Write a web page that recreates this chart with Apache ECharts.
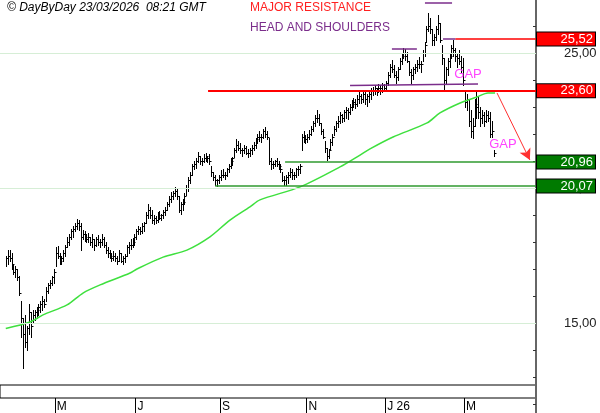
<!DOCTYPE html>
<html>
<head>
<meta charset="utf-8">
<script src="https://cdn.jsdelivr.net/npm/echarts@6/dist/echarts.min.js"></script>
<style>
html, body { margin: 0; padding: 0; background: #fff; }
#chart { width: 600px; height: 413px; }
</style>
</head>
<body>
<div id="chart"></div>
<script>
// daily bars, bar 0 ~ 25/03/2025 ... bar 254 = 23/03/2026
var highs = [
    17.5, 17.7, 17.7, 17.6, 17.2, 17.1, 17.0, 16.75, 15.8, 15.2,
    15.3, 14.9, 15.7, 15.4, 15.5, 15.5, 15.6, 15.7, 15.8, 16.0,
    15.9, 16.35, 16.5, 16.6, 16.75, 17.0, 17.8, 17.85, 17.6, 17.5,
    17.7, 17.9, 18.2, 18.3, 18.5, 18.6, 18.7, 18.85, 18.8, 18.7,
    18.45, 18.4, 18.3, 18.35, 18.2, 18.3, 18.1, 18.2, 18.25, 18.1,
    18.3, 18.2, 18.0, 17.8, 17.7, 17.6, 17.65, 17.6, 17.5, 17.7,
    17.6, 17.5, 17.55, 17.9, 18.0, 18.1, 18.15, 18.3, 18.5, 18.6,
    18.55, 18.7, 18.75, 19.1, 19.4, 19.3, 19.2, 19.0, 18.95, 19.1,
    19.15, 19.05, 19.2, 19.3, 19.5, 19.7, 19.85, 19.9, 20.05, 20.0,
    19.7, 19.5, 19.6, 19.8, 20.1, 20.4, 20.6, 20.9, 21.0, 21.1,
    21.35, 21.2, 21.1, 21.25, 21.3, 21.2, 21.25, 20.8, 20.6, 20.5,
    20.35, 20.5, 20.65, 20.7, 20.6, 20.75, 20.9, 21.1, 21.15, 21.5,
    21.8, 21.75, 21.65, 21.5, 21.6, 21.55, 21.45, 21.5, 21.6, 21.7,
    21.85, 22.0, 22.1, 22.0, 22.2, 22.25, 22.1, 21.85, 21.1, 21.0,
    21.05, 21.1, 21.0, 20.9, 20.6, 20.45, 20.5, 20.6, 20.75, 20.7,
    20.6, 20.75, 20.8, 20.9, 22.0, 22.1, 21.95, 22.0, 22.15, 22.3,
    22.5, 22.7, 22.9, 22.75, 22.4, 22.2, 21.75, 21.5, 21.45, 21.8,
    22.0, 22.3, 22.5, 22.65, 22.8, 22.75, 22.9, 23.0, 22.95, 23.1,
    23.25, 23.35, 23.3, 23.45, 23.55, 23.5, 23.6, 23.55, 23.5, 23.6,
    23.7, 23.75, 23.8, 23.7, 23.85, 23.8, 23.9, 23.85, 23.95, 24.3,
    24.6, 24.75, 24.55, 24.35, 24.5, 24.8, 25.0, 25.2, 25.15, 25.05,
    24.7, 24.4, 24.5, 24.6, 24.75, 24.85, 24.7, 25.1, 25.4, 26.0,
    26.48, 26.3, 25.9, 25.7, 26.0, 26.4, 26.1, 25.3, 24.8, 24.5,
    24.8, 25.0, 25.3, 25.5, 25.2, 24.95, 25.1, 24.9, 24.8, 23.6,
    23.5, 23.3, 22.9, 22.6, 23.3, 23.55, 23.4, 23.0, 22.9, 22.8,
    22.9, 22.85, 22.8, 22.5, 21.4
];
var lows = [
    17.1, 17.2, 17.3, 17.0, 16.8, 16.7, 16.6, 16.05, 14.5, 13.35,
    14.1, 14.0, 14.6, 14.5, 15.0, 15.1, 15.2, 15.3, 15.4, 15.5,
    15.6, 15.8, 16.1, 16.3, 16.4, 16.5, 17.1, 17.4, 17.2, 17.2,
    17.3, 17.5, 17.8, 17.9, 18.1, 18.2, 18.4, 18.5, 18.45, 17.7,
    18.1, 18.05, 18.0, 18.0, 17.9, 17.8, 17.7, 17.85, 17.9, 17.8,
    17.9, 17.8, 17.6, 17.45, 17.4, 17.3, 17.35, 17.3, 17.2, 17.3,
    17.25, 17.2, 17.25, 17.5, 17.6, 17.75, 17.8, 17.9, 18.1, 18.3,
    18.3, 18.35, 18.4, 18.7, 18.9, 18.9, 18.7, 18.65, 18.7, 18.75,
    18.85, 18.8, 18.9, 19.0, 19.2, 19.35, 19.5, 19.6, 19.7, 19.6,
    19.1, 19.05, 19.2, 19.4, 19.75, 19.9, 20.2, 20.5, 20.7, 20.75,
    20.95, 20.9, 20.85, 20.95, 21.0, 20.95, 20.9, 20.45, 20.3, 20.1,
    20.07, 20.2, 20.3, 20.4, 20.35, 20.45, 20.6, 20.75, 20.85, 21.15,
    21.35, 21.4, 21.3, 21.2, 21.3, 21.25, 21.15, 21.2, 21.25, 21.4,
    21.5, 21.65, 21.75, 21.7, 21.85, 21.9, 21.8, 20.9, 20.7, 20.75,
    20.8, 20.8, 20.7, 20.6, 20.25, 20.1, 20.1, 20.2, 20.4, 20.35,
    20.35, 20.4, 20.5, 20.55, 21.4, 21.7, 21.65, 21.7, 21.8, 21.95,
    22.1, 22.3, 22.45, 22.35, 22.0, 21.85, 21.35, 21.05, 21.1, 21.4,
    21.6, 21.95, 22.1, 22.25, 22.4, 22.45, 22.5, 22.6, 22.55, 22.75,
    22.9, 23.0, 22.95, 23.05, 23.15, 23.15, 23.2, 23.1, 23.05, 23.2,
    23.3, 23.45, 23.5, 23.45, 23.55, 23.5, 23.55, 23.6, 23.6, 23.8,
    24.1, 24.3, 24.1, 23.9, 24.0, 24.4, 24.6, 24.8, 24.75, 24.65,
    24.2, 23.9, 24.05, 24.25, 24.35, 24.45, 24.3, 24.7, 24.9, 25.4,
    25.8, 25.75, 25.3, 25.3, 25.5, 25.7, 25.4, 24.6, 23.65, 23.9,
    24.2, 24.5, 24.8, 24.9, 24.7, 24.5, 24.6, 24.3, 23.8, 23.0,
    22.9, 22.3, 21.9, 21.85, 22.3, 22.6, 22.6, 22.3, 22.4, 22.3,
    22.45, 22.5, 21.9, 21.9, 21.2
];
var closes = [
    17.4, 17.5, 17.4, 17.2, 16.9, 17.0, 16.7, 16.1, 15.2, 14.6,
    14.3, 14.8, 15.4, 14.9, 15.3, 15.4, 15.5, 15.6, 15.7, 15.8,
    15.7, 16.2, 16.4, 16.5, 16.7, 16.9, 17.6, 17.5, 17.3, 17.4,
    17.6, 17.8, 18.0, 18.2, 18.4, 18.5, 18.6, 18.7, 18.6, 18.2,
    18.3, 18.2, 18.1, 18.2, 18.0, 18.1, 17.9, 18.1, 18.0, 18.0,
    18.1, 17.9, 17.7, 17.6, 17.5, 17.4, 17.5, 17.4, 17.3, 17.6,
    17.3, 17.4, 17.5, 17.8, 17.9, 17.9, 18.0, 18.2, 18.4, 18.5,
    18.4, 18.6, 18.7, 19.0, 19.2, 19.0, 18.8, 18.9, 18.8, 19.0,
    18.9, 19.0, 19.1, 19.2, 19.4, 19.6, 19.7, 19.8, 19.9, 19.7,
    19.2, 19.4, 19.5, 19.7, 20.0, 20.3, 20.5, 20.8, 20.9, 21.0,
    21.2, 21.0, 21.0, 21.1, 21.2, 21.1, 21.0, 20.6, 20.4, 20.3,
    20.3, 20.4, 20.5, 20.5, 20.5, 20.7, 20.8, 21.0, 21.1, 21.4,
    21.6, 21.5, 21.4, 21.4, 21.5, 21.3, 21.3, 21.4, 21.5, 21.6,
    21.8, 21.9, 21.9, 21.9, 22.1, 22.0, 21.9, 21.0, 20.9, 20.9,
    21.0, 20.9, 20.8, 20.7, 20.3, 20.3, 20.4, 20.5, 20.6, 20.5,
    20.5, 20.7, 20.7, 20.8, 21.9, 21.8, 21.8, 21.9, 22.0, 22.2,
    22.4, 22.6, 22.6, 22.4, 22.1, 21.9, 21.5, 21.2, 21.4, 21.7,
    21.9, 22.2, 22.4, 22.5, 22.7, 22.6, 22.8, 22.9, 22.8, 23.0,
    23.1, 23.2, 23.1, 23.3, 23.4, 23.3, 23.5, 23.3, 23.4, 23.5,
    23.6, 23.6, 23.7, 23.6, 23.7, 23.7, 23.8, 23.7, 23.9, 24.2,
    24.5, 24.4, 24.2, 24.1, 24.4, 24.7, 24.9, 25.0, 24.9, 24.7,
    24.3, 24.2, 24.4, 24.5, 24.6, 24.6, 24.6, 25.0, 25.3, 25.9,
    26.0, 25.9, 25.5, 25.6, 25.9, 26.1, 25.5, 24.8, 24.0, 24.4,
    24.7, 24.9, 25.2, 25.1, 24.9, 24.8, 24.7, 24.5, 24.0, 23.2,
    23.3, 22.5, 22.1, 22.3, 23.1, 23.0, 22.8, 22.6, 22.7, 22.5,
    22.7, 22.6, 22.0, 22.1, 21.3
];

// moving average, [bar, value]
var maPoints = [
    [0, 14.8], [12.6, 15.04], [19.4, 15.3], [31.9, 15.67], [40.2, 16.11],
    [49.1, 16.41], [64.7, 16.85], [68.3, 17.0], [81.9, 17.44], [94.3, 17.7],
    [106.3, 18.19], [116.7, 18.81], [127.1, 19.3], [132.3, 19.56], [153.2, 20.04],
    [174, 20.78], [184.4, 21.22], [189.6, 21.45], [201.6, 21.89], [219.3, 22.41],
    [226, 22.78], [236.5, 23.15], [245.3, 23.37], [251, 23.52], [254.7, 23.52]
];

var monthTicks = [25.5, 67.5, 111.5, 156.5, 197.5, 238.5];
var monthLabels = ['M', 'J', 'S', 'N', 'J 26', 'M'];
var gridLevels = [25, 20, 15];

var resistValues = [25.52, 23.60];
var resistStart = [234, 105.3];
var supportValues = [20.96, 20.07];
var supportStart = [145.4, 109];

// head and shoulders marks: [fromBar, toBar, fromValue, toValue]
var hsLines = [
    [179.2, 245.8, 23.80, 23.85],
    [201, 214, 25.15, 25.15],
    [218.2, 232.3, 26.85, 26.85],
    [227.6, 234, 25.53, 25.53]
];
var arrowFrom = [255.7, 23.52];
var arrowTo = [272.8, 21.04];
var gapNotes = [[240.6, 24.22], [258.8, 21.63]];

var FONT = '"Liberation Sans", Arial, sans-serif';
var xMin = -3, xMax = 276;

function fmt(v) { return v.toFixed(2).replace('.', ','); }

var bars = highs.map(function (h, i) { return [i, h, lows[i], closes[i]]; });

function renderBar(params, api) {
    var i = api.value(0);
    var hi = api.coord([i, api.value(1)]);
    var lo = api.coord([i, api.value(2)]);
    var cl = api.coord([i, api.value(3)]);
    var x = Math.round(hi[0]) + 0.5;
    var yc = Math.round(cl[1]) + 0.5;
    return {
        type: 'group',
        children: [{
            type: 'line',
            shape: { x1: x, y1: Math.round(hi[1]), x2: x, y2: Math.round(lo[1]) + 1 },
            style: { stroke: '#000', lineWidth: 1 }
        }, {
            type: 'line',
            shape: { x1: x, y1: yc, x2: x + 2, y2: yc },
            style: { stroke: '#000', lineWidth: 1 }
        }]
    };
}

function levelLine(value, start, fill, width, lineColor) {
    return [{
        coord: [start, value],
        symbol: 'none',
        lineStyle: { color: lineColor, width: width, type: 'solid' },
        label: {
            show: true,
            position: 'end',
            distance: 1,
            formatter: '{v|' + fmt(value) + '}',
            backgroundColor: fill,
            borderColor: '#000',
            borderWidth: 1,
            padding: [0, 2, 0, 0],
            rich: { v: { width: 56, align: 'right', color: '#fff', fontSize: 13, lineHeight: 13, fontFamily: FONT } }
        }
    }, { coord: [xMax, value], symbol: 'none' }];
}

var annot = [];
resistValues.forEach(function (v, k) { annot.push(levelLine(v, resistStart[k], '#ff0000', k === 1 ? 2 : 1.5, '#ff0000')); });
supportValues.forEach(function (v, k) { annot.push(levelLine(v, supportStart[k], '#007a00', 1.5, '#2f9a2f')); });
hsLines.forEach(function (l) {
    annot.push([{ coord: [l[0], l[2]], symbol: 'none', lineStyle: { color: '#7b2d8b', width: 1.5, type: 'solid' }, label: { show: false } },
                { coord: [l[1], l[3]], symbol: 'none' }]);
});
annot.push([{ coord: arrowFrom, symbol: 'none', lineStyle: { color: '#ff3030', width: 1, type: 'solid' }, label: { show: false } },
            { coord: arrowTo, symbol: 'arrow', symbolSize: [9, 11] }]);

var chart = echarts.init(document.getElementById('chart'));
var option = {
    animation: false,
    backgroundColor: '#fff',
    title: [
        { text: '© DayByDay 23/03/2026  08:21 GMT', left: 2, top: -3, textStyle: { fontSize: 12, fontStyle: 'italic', fontWeight: 'normal', color: '#000', fontFamily: FONT } },
        { text: 'MAJOR RESISTANCE', left: 245, top: -3, textStyle: { fontSize: 12, fontWeight: 'normal', color: '#ff2020', fontFamily: FONT } },
        { text: 'HEAD AND SHOULDERS', left: 245, top: 17, textStyle: { fontSize: 12, fontWeight: 'normal', color: '#7b2d8b', fontFamily: FONT } }
    ],
    grid: [
        { left: 0, right: 64, top: -1, height: 432, outerBoundsMode: 'none' },
        { left: 0, right: 64, top: 385, height: 13, show: true, borderColor: '#000', borderWidth: 1, outerBoundsMode: 'none' }
    ],
    xAxis: [
        { type: 'value', gridIndex: 0, min: xMin, max: xMax, show: false },
        {
            type: 'value', gridIndex: 1, min: xMin, max: xMax, position: 'bottom',
            axisLine: { show: false },
            axisTick: { show: true, customValues: monthTicks, length: 15, lineStyle: { color: '#000' } },
            axisLabel: {
                show: true, customValues: monthTicks, margin: 3, align: 'left', padding: [0, 0, 0, 2],
                fontSize: 12, color: '#000', fontFamily: FONT,
                formatter: function (v) { return monthLabels[monthTicks.indexOf(v)]; }
            },
            splitLine: { show: false }
        }
    ],
    yAxis: [
        {
            type: 'value', gridIndex: 0, position: 'right', min: 11, max: 27, interval: 1,
            axisLine: { show: true, onZero: false, lineStyle: { color: '#666', width: 2 } },
            axisTick: { show: true, inside: true, length: 3, lineStyle: { color: '#333' } },
            axisLabel: {
                margin: 28, fontSize: 13, color: '#222', fontFamily: FONT,
                formatter: function (v) { return v % 5 === 0 ? fmt(v) : ''; }
            },
            splitLine: { show: false }
        },
        { type: 'value', gridIndex: 1, show: false }
    ],
    series: [
        {
            // light grid lines
            type: 'line', xAxisIndex: 0, yAxisIndex: 0, data: [], z: 1,
            markLine: {
                silent: true, symbol: 'none', label: { show: false },
                lineStyle: { color: '#d6eed6', width: 1, type: 'solid' },
                data: gridLevels.map(function (v) { return [{ coord: [xMin, v] }, { coord: [xMax, v] }]; })
            }
        },
        {
            type: 'custom', xAxisIndex: 0, yAxisIndex: 0, z: 2,
            renderItem: renderBar,
            encode: { x: 0, y: [1, 2, 3] },
            data: bars,
            markPoint: {
                symbol: 'circle', symbolSize: 0,
                label: { show: true, position: 'inside', formatter: 'GAP', color: '#ff44ff', fontSize: 13, fontFamily: FONT },
                data: gapNotes.map(function (p) { return { coord: p }; })
            }
        },
        {
            type: 'line', xAxisIndex: 0, yAxisIndex: 0, z: 3,
            data: maPoints, smooth: 0.3, showSymbol: false,
            lineStyle: { color: '#3ee03e', width: 1.5 },
            markLine: { silent: true, symbol: 'none', data: annot }
        }
    ]
};
chart.setOption(option);
</script>
</body>
</html>
